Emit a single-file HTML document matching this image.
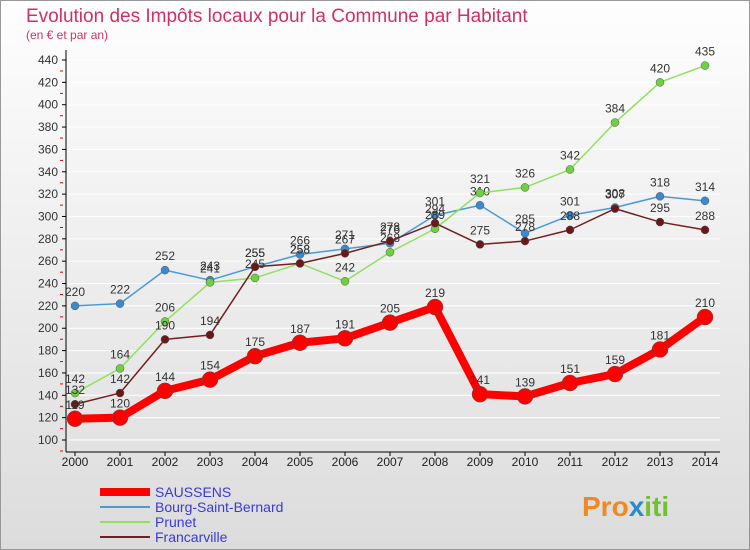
<!DOCTYPE html>
<html><head><meta charset="utf-8"><style>
body{margin:0;width:750px;height:550px;overflow:hidden;font-family:"Liberation Sans",sans-serif;}
#c{position:absolute;left:0;top:0;width:750px;height:550px;}
</style></head><body>
<svg id="c" width="750" height="550" xmlns="http://www.w3.org/2000/svg">
<defs><linearGradient id="bg" x1="0" y1="0" x2="0" y2="1"><stop offset="0" stop-color="#fefefe"/><stop offset="1" stop-color="#dcdcdc"/></linearGradient></defs>
<rect x="0.5" y="0.5" width="749" height="549" fill="url(#bg)" stroke="#999"/>
<text x="26" y="22" font-size="19" fill="#d0306a">Evolution des Impôts locaux pour la Commune par Habitant</text>
<text x="26" y="39" font-size="12" fill="#d0306a">(en € et par an)</text>
<g id="grid"></g><g id="axes"></g><g id="series"></g><g id="legend"></g>
<text x="582" y="516" font-size="28" font-weight="bold" fill="#f08a20">Pro<tspan fill="#2a8ad0">x</tspan><tspan fill="#70c030">iti</tspan></text>
</svg>
<script>
const years=["2000","2001","2002","2003","2004","2005","2006","2007","2008","2009","2010","2011","2012","2013","2014"];
const yTicks=[100,120,140,160,180,200,220,240,260,280,300,320,340,360,380,400,420,440];
const saussens=[119,120,144,154,175,187,191,205,219,141,139,151,159,181,210];
const bourg=[220,222,252,243,255,266,271,276,301,310,285,301,308,318,314];
const prunet=[142,164,206,241,245,258,242,268,289,321,326,342,384,420,435];
const francarville=[132,142,190,194,255,258,267,278,294,275,278,288,307,295,288];
const NS="http://www.w3.org/2000/svg";
const xs=i=>75+i*45, ys=v=>440-(v-100)*380/340;
function mk(t,a,p){const e=document.createElementNS(NS,t);for(const k in a)e.setAttribute(k,a[k]);p.appendChild(e);return e;}
const grid=document.getElementById('grid'),axes=document.getElementById('axes'),ser=document.getElementById('series'),leg=document.getElementById('legend');
yTicks.forEach(v=>{
 const l=mk('line',{x1:68,x2:720,y1:ys(v),y2:ys(v),stroke:'#ffffff','stroke-width':1},grid);
 
 
 const t=mk('text',{x:58,y:ys(v)+4,'font-size':12,'text-anchor':'end',fill:'#333'},axes);
 t.textContent=v;
 
 
 mk('line',{x1:62,x2:66,y1:ys(v),y2:ys(v),stroke:'#000'},axes);
 mk('line',{x1:60,x2:63,y1:ys(v)+11,y2:ys(v)+11,stroke:'#d00'},axes);
});
mk('line',{x1:66,x2:66,y1:50,y2:452,stroke:'#000'},axes);
mk('line',{x1:66,x2:720,y1:452,y2:452,stroke:'#000'},axes);
years.forEach((y,i)=>{
 mk('line',{x1:xs(i),x2:xs(i),y1:452,y2:456,stroke:'#000'},axes);
 const t=mk('text',{x:xs(i),y:466,'font-size':12,'text-anchor':'middle',fill:'#222'},axes);
 t.textContent=y;
 
 
});
function draw(name,data,color,w,r,fill){
 const g=mk('g',{},ser);
 
 
 const p=mk('polyline',{points:data.map((v,i)=>xs(i)+','+ys(v)).join(' '),fill:'none',stroke:color,'stroke-width':w,'stroke-linejoin':'round'},g);
 
 
 data.forEach((v,i)=>{
  const c=mk('circle',{cx:xs(i),cy:ys(v),r:r,fill:fill,stroke:'#555','stroke-width':0.5},g);
  
  
  const t=mk('text',{x:xs(i),y:ys(v)-10,'font-size':12,'text-anchor':'middle',fill:'#333'},g);
  t.textContent=v;
  
  
 });
}
draw('bourg',bourg,'#4a9ad8',1.5,4,'#3a8ad0');
draw('prunet',prunet,'#90e060',1.5,4,'#70d040');
draw('francarville',francarville,'#702020',1.5,4,'#6a1818');
draw('saussens',saussens,'#ff0000',8,8,'#f00');
const items=[['SAUSSENS','#ff0000',8],['Bourg-Saint-Bernard','#4a9ad8',2],['Prunet','#90e060',2],['Francarville','#702020',2]];
items.forEach((it,i)=>{
 const y=492+i*15;
 const l=mk('line',{x1:100,x2:150,y1:y,y2:y,stroke:it[1],'stroke-width':it[2]},leg);
 
 
 const t=mk('text',{x:155,y:y+5,'font-size':14,fill:'#3a3ad8'},leg);
 t.textContent=it[0];
 
 
});
</script>
</body></html>
